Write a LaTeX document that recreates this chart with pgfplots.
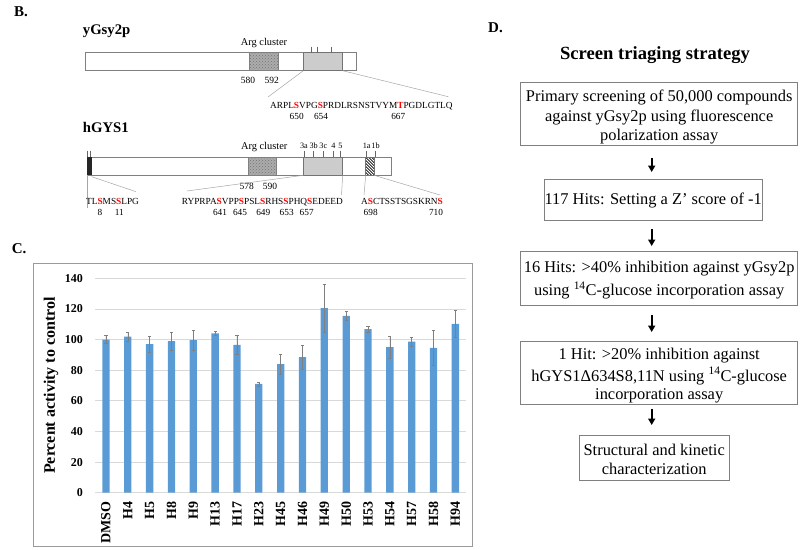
\documentclass[border=0pt]{standalone}
\usepackage{pgfplots}
\pgfplotsset{compat=1.18}
\usepackage{fontspec}
\setmainfont{Liberation Serif}
\usetikzlibrary{patterns,arrows.meta}
\definecolor{barblue}{HTML}{5B9BD5}
\definecolor{gridc}{HTML}{D9D9D9}
\definecolor{framec}{HTML}{9A9A9A}
\definecolor{seqred}{HTML}{FF0000}
\definecolor{boxc}{HTML}{808080}
\newcommand\R[1]{\textcolor{seqred}{\textbf{#1}}}
\newcommand\fs[1]{\fontsize{#1}{#1}\selectfont}
\begin{document}
\begin{tikzpicture}
\useasboundingbox (0pt,0pt) rectangle (800pt,-549pt);
\begin{scope}[x=1pt,y=-1pt,every node/.style={inner sep=0pt}]
% ---------------- Panel B ----------------
\node[font=\bfseries\fs{15},anchor=west] at (14,12) {B.};
\node[font=\bfseries\fs{14.7},anchor=west] at (82.7,31.7) {yGsy2p};
\node[font=\fs{10.4}] at (264,43.3) {Arg cluster};
\draw[gray,line width=0.6pt,fill=white] (85,52.7) rectangle (356,70.7);
\fill[gray!65] (249.7,52.7) rectangle (278.3,70.7);
\fill[pattern=crosshatch dots,pattern color=gray!90!black] (249.7,52.7) rectangle (278.3,70.7);
\draw[gray,line width=0.6pt] (249.7,52.7) rectangle (278.3,70.7);
\fill[gray!40] (303.3,52.7) rectangle (342.7,70.7);
\draw[gray!90!black,line width=0.6pt] (303.3,52.7) rectangle (342.7,70.7);
\foreach \xx in {311,317.7,331.7} \draw[gray!80!black,line width=0.5pt] (\xx,46.7)--(\xx,52.7);
\node[font=\fs{9.5}] at (248,80) {580};
\node[font=\fs{9.5}] at (271.7,80) {592};
\draw[gray!70,line width=0.5pt] (303.3,70.7)--(268,97);
\draw[gray!70,line width=0.5pt] (342.7,70.7)--(448.3,96.7);
\node[font=\fs{9.3},anchor=west] at (270,105.7) {ARPL\R{S}VPG\R{S}PRDLRSNSTVYM\R{T}PGDLGTLQ};
\node[font=\fs{9.3}] at (296.7,116) {650};
\node[font=\fs{9.3}] at (321,116) {654};
\node[font=\fs{9.3}] at (398.3,116) {667};
% hGYS1
\node[font=\bfseries\fs{14.7},anchor=west] at (82.7,127) {hGYS1};
\node[font=\fs{10.4}] at (264.2,146.7) {Arg cluster};
\draw[gray,line width=0.6pt,fill=white] (87.3,157.3) rectangle (391.7,175.3);
\fill[black!85] (87.3,157.3) rectangle (91.7,175.3);
\foreach \xx in {87.7,90.7} \draw[gray!80!black,line width=0.5pt] (\xx,150.7)--(\xx,157.3);
\fill[gray!65] (248.3,157.3) rectangle (276.7,175.3);
\fill[pattern=crosshatch dots,pattern color=gray!90!black] (248.3,157.3) rectangle (276.7,175.3);
\draw[gray,line width=0.6pt] (248.3,157.3) rectangle (276.7,175.3);
\fill[gray!40] (303.3,157.3) rectangle (342.7,175.3);
\draw[gray!90!black,line width=0.6pt] (303.3,157.3) rectangle (342.7,175.3);
\foreach \xx in {304,313.7,323.3,333.7,340.7} \draw[gray!80!black,line width=0.5pt] (\xx,150.7)--(\xx,157.3);
\node[font=\fs{8.2}] at (304,146) {3a};
\node[font=\fs{8.2}] at (313.7,146) {3b};
\node[font=\fs{8.2}] at (323.3,146) {3c};
\node[font=\fs{8.2}] at (333.3,146) {4};
\node[font=\fs{8.2}] at (340.5,146) {5};
\fill[white] (365.7,157.3) rectangle (374,175.3);
\begin{scope}
\clip (365.7,157.3) rectangle (374,175.3);
\foreach \k in {-12,-9,...,21} \draw[black,line width=0.8pt] (365.7,157.3+\k)--(374,165.6+\k);
\end{scope}
\draw[gray!90!black,line width=0.6pt] (365.7,157.3) rectangle (374,175.3);
\foreach \xx in {366.7,375} \draw[gray!80!black,line width=0.5pt] (\xx,150.7)--(\xx,157.3);
\node[font=\fs{8.2}] at (366.7,146) {1a};
\node[font=\fs{8.2}] at (375.5,146) {1b};
\node[font=\fs{9.5}] at (246.7,186) {578};
\node[font=\fs{9.5}] at (270,186) {590};
\draw[gray!70,line width=0.5pt] (87.5,175.3)--(87.5,208);
\draw[gray!70,line width=0.5pt] (91.7,176.7)--(136,191.7);
\draw[gray!70,line width=0.5pt] (303.3,175.3)--(187,191);
\draw[gray!70,line width=0.5pt] (342.7,175.3)--(341.5,195);
\draw[gray!70,line width=0.5pt] (365.7,175.3)--(364,195);
\draw[gray!70,line width=0.5pt] (374,175.3)--(440,195);
\node[font=\fs{9.3},anchor=west] at (86,201.7) {TL\R{S}MS\R{S}LPG};
\node[font=\fs{9.3}] at (100,212.7) {8};
\node[font=\fs{9.3}] at (119.3,212.7) {11};
\node[font=\fs{9.3},anchor=west] at (181.7,201.7) {RYPRPA\R{S}VPP\R{S}PSL\R{S}RHS\R{S}PHQ\R{S}EDEED};
\node[font=\fs{9.3}] at (220,212.7) {641};
\node[font=\fs{9.3}] at (240,212.7) {645};
\node[font=\fs{9.3}] at (263.3,212.7) {649};
\node[font=\fs{9.3}] at (286.7,212.7) {653};
\node[font=\fs{9.3}] at (306.7,212.7) {657};
\node[font=\fs{9.3},anchor=west] at (361,201.7) {A\R{S}CTSSTSGSKRN\R{S}};
\node[font=\fs{9.3}] at (370.7,212.7) {698};
\node[font=\fs{9.3}] at (436,212.7) {710};
% ---------------- Panel C frame ----------------
\node[font=\bfseries\fs{15},anchor=west] at (11.7,248.3) {C.};
\draw[framec,line width=0.8pt] (33,263) rectangle (472,546);
% ---------------- Panel D ----------------
\node[font=\bfseries\fs{15},anchor=west] at (488,28) {D.};
\node[font=\bfseries\fs{18.6}] at (655,55) {Screen triaging strategy};
\draw[boxc,line width=0.8pt] (520.7,82.7) rectangle (797.7,145.3);
\node[font=\fs{16.4}] at (659.2,97) {Primary screening of 50,000 compounds};
\node[font=\fs{16.4}] at (659.2,117) {against yGsy2p using fluorescence};
\node[font=\fs{16.4}] at (659.2,137) {polarization assay};
\draw[line width=1.8pt,-{Triangle[width=7pt,length=6.5pt]}] (651.7,158)--(651.7,172);
\draw[boxc,line width=0.8pt] (544,179.3) rectangle (762.3,220);
\node[font=\fs{16.4}] at (653.2,200) {117 Hits: Setting a Z’ score of -1};
\draw[line width=1.8pt,-{Triangle[width=7pt,length=6.5pt]}] (651.7,229)--(651.7,246);
\draw[boxc,line width=0.8pt] (520.7,251.7) rectangle (797.7,305);
\node[font=\fs{16.4}] at (659.2,268.5) {16 Hits: >40\% inhibition against yGsy2p};
\node[font=\fs{16.4}] at (659.2,290.7) {using \textsuperscript{14}C-glucose incorporation assay};
\draw[line width=1.8pt,-{Triangle[width=7pt,length=6.5pt]}] (651.7,315)--(651.7,332);
\draw[boxc,line width=0.8pt] (520.7,341) rectangle (797.7,404.3);
\node[font=\fs{16.4}] at (659.2,356) {1 Hit: >20\% inhibition against};
\node[font=\fs{16.4}] at (659.2,376) {hGYS1Δ634S8,11N using \textsuperscript{14}C-glucose};
\node[font=\fs{16.4}] at (659.2,396) {incorporation assay};
\draw[line width=1.8pt,-{Triangle[width=7pt,length=6.5pt]}] (651.7,408.5)--(651.7,425);
\draw[boxc,line width=0.8pt] (579,435) rectangle (729.3,480);
\node[font=\fs{16.4}] at (654.2,450) {Structural and kinetic};
\node[font=\fs{16.4}] at (654.2,469.3) {characterization};
\end{scope}
% ---------------- Panel C chart ----------------
\begin{axis}[
  at={(95pt,-492.7pt)}, anchor=south west,
  scale only axis, width=371.3pt, height=214.4pt,
  xmin=-0.5, xmax=16.5, ymin=0, ymax=140,
  ytick={0,20,...,140},
  xtick={0,...,16},
  xticklabels={DMSO,H4,H5,H8,H9,H13,H17,H23,H45,H46,H49,H50,H53,H54,H57,H58,H94},
  major tick length=0pt,
  axis line style={draw=none},
  ymajorgrids, grid style={gridc,line width=0.8pt},
  /pgf/number format/assume math mode=true,
  yticklabel style={font=\bfseries\fs{12}, inner sep=0pt, anchor=east},
  yticklabel shift=12pt,
  xticklabel style={font=\bfseries\fs{14}, inner sep=0pt, rotate=90, anchor=east},
  xticklabel shift=9pt,
  ylabel={Percent activity to control},
  ylabel style={font=\bfseries\fs{16}, at={(axis description cs:-0.1186,0.5)}, anchor=center},
  clip=false,
]
\addplot[ybar, bar width=7.3pt, fill=barblue, draw=none,
  error bars/.cd, y dir=both, y explicit,
  error bar style={gray, line width=0.5pt},
  error mark options={rotate=90, gray, mark size=1.6pt, line width=0.5pt}]
  table[x=x, y=y, y error=e] {
x y e
0 100 2.5
1 102 3
2 97 5
3 99 6
4 99.6 6.3
5 104 1.5
6 96.5 6
7 71 1.2
8 84 6.5
9 88.5 7.8
10 120.5 15.5
11 115.5 2.8
12 106.8 2
13 95 7
14 98.6 3
15 94.6 11.4
16 110.3 8.7
};
\end{axis}
\end{tikzpicture}
\end{document}
